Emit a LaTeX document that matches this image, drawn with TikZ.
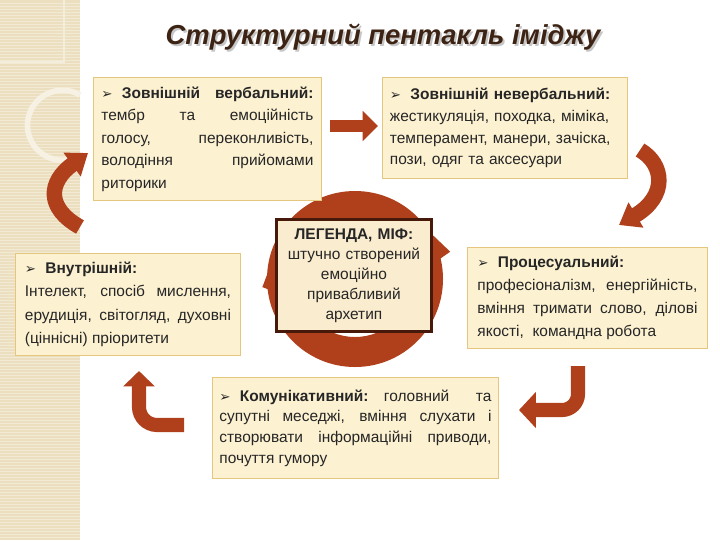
\documentclass[tikz,border=0pt]{standalone}
\usepackage{fontspec}
\setmainfont{Liberation Sans}
\newfontfamily\bulletfont{DejaVu Sans}
\usetikzlibrary{arrows.meta}
\definecolor{rust}{RGB}{176,64,28}
\definecolor{cream}{RGB}{252,241,209}
\definecolor{creamline}{RGB}{228,198,126}
\definecolor{legendfill}{RGB}{250,236,206}
\definecolor{legendline}{RGB}{70,25,10}
\definecolor{titlebrown}{RGB}{61,35,19}
\definecolor{stripbeige}{RGB}{236,223,192}
\newcommand{\bul}{{\bulletfont\fontsize{9.5}{9.5}\selectfont ➢}\hspace{0.6em}}
\hyphenpenalty=10000

\begin{document}
\begin{tikzpicture}[x=0.025cm, y=-0.025cm,
  pbox/.style={draw=creamline, line width=0.6pt, fill=cream, anchor=north west, inner xsep=0pt, inner ysep=0pt, text=black!85, font=\fontsize{11}{16}\selectfont},
  bentarrow/.style={draw=rust, line width=10pt}]
\useasboundingbox (0,0) rectangle (720,540);
\fill[white] (0,0) rectangle (720,540);
\fill[stripbeige] (0,0) rectangle (80,540);
\foreach \k in {1,...,179} \draw[white!35!stripbeige, line width=0.5pt] (0,3*\k) -- (80,3*\k);
\draw[white!45!stripbeige, line width=0.8pt] (0,62) -- (64,62) -- (64,0);
\draw[white!55!stripbeige, line width=4pt] (80,95) arc[start angle=-60, end angle=-300, radius=35];

\node[text=black!22, font=\fontsize{19.5}{22}\selectfont\bfseries\itshape, anchor=base] (titleshadow) at (385,46) {Структурний пентакль іміджу};
\node[text=titlebrown, font=\fontsize{19.5}{22}\selectfont\bfseries\itshape, anchor=base] (title) at (383,44) {Структурний пентакль іміджу};

\fill[rust, even odd rule] (355,279) circle (88) (355,279) circle (58);
\begin{scope}[shift={(355,279)}]
\fill[rust] (344:99) -- (347:86) -- (320:86) -- cycle;
\fill[rust] (175:93) -- (172:84) -- (197:84) -- cycle;
\end{scope}

\node[pbox, minimum width=5.7cm, minimum height=3.075cm, text width=5.3cm, align=justify] (verbal) at (93,77)
  {{\bfseries\bul Зовнішній вербальний:}\linebreak тембр та емоційність\linebreak голосу, переконливість,\linebreak володіння прийомами\linebreak риторики};
\node[pbox, minimum width=6.125cm, minimum height=2.525cm, text width=5.75cm, align=left, font=\fontsize{11}{15.6}\selectfont] (neverbal) at (382,77)
  {{\bfseries\bul Зовнішній невербальний:}\\ жестикуляція, походка, міміка,\\ темперамент, манери, зачіска,\\ пози, одяг та аксесуари};
\node[pbox, minimum width=5.625cm, minimum height=2.55cm, text width=5.15cm, align=justify, font=\fontsize{11}{16.5}\selectfont] (vnutr) at (15,253)
  {{\bfseries\bul Внутрішній:}\\ Інтелект, спосіб мислення,\linebreak ерудиція, світогляд, духовні\linebreak (ціннісні) пріоритети};
\node[pbox, minimum width=6cm, minimum height=2.525cm, text width=5.5cm, align=justify, font=\fontsize{11}{16.5}\selectfont] (proces) at (467,247)
  {{\bfseries\bul Процесуальний:}\\ професіоналізм, енергійність,\linebreak вміння тримати слово, ділові\linebreak якості,~ командна робота};
\node[pbox, minimum width=7.15cm, minimum height=2.525cm, text width=6.8cm, align=justify, font=\fontsize{11}{14.7}\selectfont] (komun) at (212,377)
  {{\bfseries\bul Комунікативний:}\quad головний та\linebreak супутні меседжі, вміння слухати і\linebreak створювати інформаційні приводи,\linebreak почуття гумору};
\node[pbox, draw=legendline, line width=2pt, fill=legendfill, minimum width=3.875cm, minimum height=2.8cm, text width=3.6cm, align=center, font=\fontsize{11}{14.2}\selectfont] (legend) at (275,218)
  {{\bfseries ЛЕГЕНДА, МІФ:}\\ штучно створений\\ емоційно\\ привабливий\\ архетип};

\coordinate (a1s) at (80,227); \coordinate (a1e) at (88,153);
\draw[bentarrow, line width=11pt, -{Triangle[length=14pt, width=20pt]}] (a1s) .. controls (46,208) and (48,182) .. (a1e);
\coordinate (a2s) at (330,126); \coordinate (a2e) at (378,126);
\draw[bentarrow, line width=9pt, -{Triangle[length=11pt, width=21pt]}] (a2s) -- (a2e);
\coordinate (a3s) at (640,150); \coordinate (a3e) at (619,225);
\draw[bentarrow, line width=11pt, -{Triangle[length=14pt, width=20pt]}] (a3s) .. controls (664,164) and (668,196) .. (a3e);
\coordinate (a4s) at (578,366); \coordinate (a4e) at (519,410);
\draw[bentarrow, rounded corners=0.4cm, -{Triangle[length=12pt, width=25pt]}] (a4s) -- (578,410) -- (a4e);
\coordinate (a5s) at (184,425); \coordinate (a5e) at (139,371);
\draw[bentarrow, rounded corners=0.45cm, -{Triangle[length=11pt, width=22pt]}] (a5s) -- (139,425) -- (a5e);
\end{tikzpicture}
\end{document}
